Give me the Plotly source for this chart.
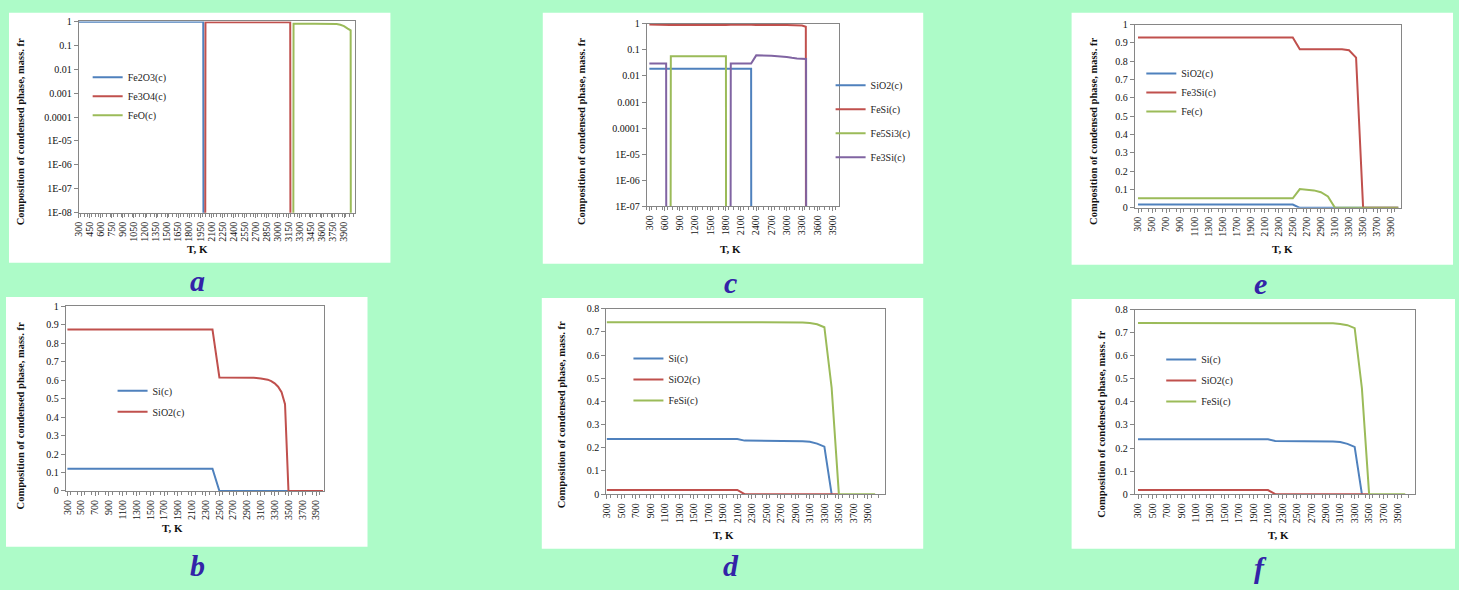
import plotly.graph_objects as go

W, H = 1459, 590
Z = 1e-30  # phase absent (below log axis minimum)

# ---------------- data ----------------
# Panel a  (log scale)
a_T_fe2o3 = [300, 1990, 2000]
a_fe2o3 = [0.97, 0.97, Z]
a_T_fe3o4 = [2010, 2020, 3170, 3180]
a_fe3o4 = [Z, 0.93, 0.93, Z]
a_T_feo = [3205, 3215, 3500, 3750, 3800, 3850, 3900, 3950, 3990, 3998]
a_feo = [Z, 0.8, 0.8, 0.79, 0.77, 0.72, 0.63, 0.5, 0.42, Z]

# Panel b
b_T_si = [300, 2400, 2500, 4000]
b_si = [0.12, 0.12, 0, 0]
b_T_sio2 = [300, 2400, 2500, 2900, 3000, 3100, 3200, 3250, 3300, 3350, 3400, 3450, 3500, 4000]
b_sio2 = [0.875, 0.875, 0.615, 0.615, 0.613, 0.61, 0.603, 0.595, 0.583, 0.565, 0.535, 0.47, 0, 0]

# Panel c  (log scale)
c_T_sio2 = [300, 2300, 2310]
c_sio2 = [0.019, 0.019, Z]
c_T_fesi = [300, 600, 700, 1800, 1900, 2300, 2400, 3000, 3200, 3300, 3375, 3385]
c_fesi = [0.95, 0.93, 0.9, 0.9, 0.93, 0.93, 0.9, 0.9, 0.9, 0.87, 0.78, Z]
c_T_fe5si3 = [705, 722, 1805, 1815]
c_fe5si3 = [Z, 0.057, 0.057, Z]
c_T_fe3si_1 = [300, 630, 640]
c_fe3si_1 = [0.03, 0.03, Z]
c_T_fe3si_2 = [1885, 1900, 2300, 2400, 2700, 2900, 3000, 3100, 3200, 3380, 3390]
c_fe3si_2 = [Z, 0.03, 0.03, 0.062, 0.06, 0.057, 0.054, 0.05, 0.047, 0.045, Z]

# Panels d and f (identical)
d_T_si = [300, 2100, 2200, 2800, 2900, 3000, 3100, 3200, 3300, 3400]
d_si = [0.238, 0.238, 0.231, 0.23, 0.228, 0.228, 0.226, 0.218, 0.205, 0]
d_T_sio2 = [300, 2100, 2200, 3500]
d_sio2 = [0.018, 0.018, 0, 0]
d_T_fesi = [300, 2900, 3000, 3100, 3200, 3300, 3400, 3500, 4000]
d_fesi = [0.742, 0.742, 0.741, 0.738, 0.733, 0.72, 0.46, 0, 0]

# Panel e
e_T_sio2 = [300, 2500, 2600, 4000]
e_sio2 = [0.018, 0.018, 0, 0]
e_T_fe3si = [300, 2500, 2600, 3200, 3300, 3400, 3500, 4000]
e_fe3si = [0.93, 0.93, 0.866, 0.866, 0.86, 0.82, 0, 0]
e_T_fe = [300, 2500, 2600, 2700, 2800, 2900, 3000, 3100, 4000]
e_fe = [0.052, 0.052, 0.102, 0.1, 0.095, 0.085, 0.062, 0, 0]

# tick labels
x_ticks_a = list(range(300, 4000, 150))
x_ticks_c = list(range(300, 4000, 300))
x_ticks_200 = list(range(300, 4000, 200))
log_ticks_a = [1, 0.1, 0.01, 0.001, 0.0001, 1e-5, 1e-6, 1e-7, 1e-8]
log_text_a = ["1", "0.1", "0.01", "0.001", "0.0001", "1E-05", "1E-06", "1E-07", "1E-08"]
log_ticks_c = log_ticks_a[:8]
log_text_c = log_text_a[:8]
lin_ticks_1 = [0, 0.1, 0.2, 0.3, 0.4, 0.5, 0.6, 0.7, 0.8, 0.9, 1]
lin_text_1 = ["0", "0.1", "0.2", "0.3", "0.4", "0.5", "0.6", "0.7", "0.8", "0.9", "1"]
lin_ticks_08 = lin_ticks_1[:9]
lin_text_08 = lin_text_1[:9]

BLUE, RED, GREEN, PURPLE = "#4F81BD", "#C0504D", "#9BBB59", "#8064A2"
SERIF = "Liberation Serif"
BG = "#ADFBC8"

fig = go.Figure()
layout = dict(width=W, height=H, margin=dict(l=0, r=0, t=0, b=0),
              paper_bgcolor=BG, plot_bgcolor="white", showlegend=True)


def fx(x):
    return x / W


def fy(y):
    return 1 - y / H


panels = {
    # i: (x0, x1, y0, y1, xrange, yrange, log, xtickvals, minor, ytickvals, yticktext)
    1: (73, 350, 15.7, 211, [300, 4043], [-8, 0], True, x_ticks_a, 50, log_ticks_a, log_text_a),
    2: (60, 319.3, 306.7, 495, [276, 4014], [0, 1], False, x_ticks_200, 100, lin_ticks_1, lin_text_1),
    3: (643.3, 836.7, 18.3, 204.3, [247, 4032], [-7, 0], True, x_ticks_c, 100, log_ticks_c, log_text_c),
    4: (602.7, 882.7, 309, 498.3, [292, 4137], [0, 0.8], False, x_ticks_200, 100, lin_ticks_08, lin_text_08),
    5: (1133.3, 1401, 19, 206, [252, 4042], [0, 1], False, x_ticks_200, 100, lin_ticks_1, lin_text_1),
    6: (1133.3, 1415, 310, 498.3, [253, 4138], [0, 0.8], False, x_ticks_200, 100, lin_ticks_08, lin_text_08),
}

tickfont = dict(family=SERIF, size=10, color="#111")
for i, (x0, x1, y0, y1, xr, yr, lg, xtv, mn, ytv, ytt) in panels.items():
    sx = "" if i == 1 else str(i)
    layout["xaxis" + sx] = dict(
        domain=[fx(x0), fx(x1)], anchor="y" + sx, range=xr, tickmode="array",
        tickvals=xtv, ticktext=[str(v) for v in xtv], tickangle=-90,
        ticks="outside", ticklen=4, tickcolor="#868686", showgrid=False,
        zeroline=False, showline=True, linecolor="#868686", linewidth=1, mirror=True,
        tickfont=tickfont,
        minor=dict(tickmode="linear", tick0=300 - mn / 2, dtick=mn, ticks="outside",
                   ticklen=3, tickcolor="#868686", showgrid=False))
    layout["yaxis" + sx] = dict(
        domain=[fy(y1), fy(y0)], anchor="x" + sx, range=yr,
        type="log" if lg else "linear", tickmode="array", tickvals=ytv, ticktext=ytt,
        ticks="outside", ticklen=4, tickcolor="#868686", showgrid=False,
        zeroline=False, showline=True, linecolor="#868686", linewidth=1, mirror=True,
        tickfont=tickfont)


def add(i, T, v, name, color, show=True, group=None):
    sx = "" if i == 1 else str(i)
    fig.add_trace(go.Scatter(
        x=T, y=v, mode="lines", name=name, line=dict(color=color, width=2),
        xaxis="x" + sx, yaxis="y" + sx, legend="legend" + sx,
        legendgroup=(group or name) + sx, showlegend=show))


add(1, a_T_fe2o3, a_fe2o3, "Fe2O3(c)", BLUE)
add(1, a_T_fe3o4, a_fe3o4, "Fe3O4(c)", RED)
add(1, a_T_feo, a_feo, "FeO(c)", GREEN)

add(2, b_T_si, b_si, "Si(c)", BLUE)
add(2, b_T_sio2, b_sio2, "SiO2(c)", RED)

add(3, c_T_sio2, c_sio2, "SiO2(c)", BLUE)
add(3, c_T_fesi, c_fesi, "FeSi(c)", RED)
add(3, c_T_fe5si3, c_fe5si3, "Fe5Si3(c)", GREEN)
add(3, c_T_fe3si_1, c_fe3si_1, "Fe3Si(c)", PURPLE, True, "fe3si")
add(3, c_T_fe3si_2, c_fe3si_2, "Fe3Si(c)", PURPLE, False, "fe3si")

for i in (4, 6):
    add(i, d_T_si, d_si, "Si(c)", BLUE)
    add(i, d_T_sio2, d_sio2, "SiO2(c)", RED)
    add(i, d_T_fesi, d_fesi, "FeSi(c)", GREEN)

add(5, e_T_sio2, e_sio2, "SiO2(c)", BLUE)
add(5, e_T_fe3si, e_fe3si, "Fe3Si(c)", RED)
add(5, e_T_fe, e_fe, "Fe(c)", GREEN)

# legends: (left px, top px, group gap)
legend_pos = {1: (82, 58, 0), 2: (107, 378, 2), 3: (828, 66, 5),
              4: (625, 345, 2), 5: (1140, 54, 0), 6: (1160, 346, 2)}
for i, (lx, ly, gap) in legend_pos.items():
    sx = "" if i == 1 else str(i)
    layout["legend" + sx] = dict(
        x=fx(lx), y=fy(ly), xanchor="left", yanchor="top", bgcolor="rgba(0,0,0,0)",
        font=dict(family=SERIF, size=10, color="#222"), itemwidth=30,
        tracegroupgap=gap, traceorder="grouped" if gap else "normal", itemclick=False)

# white chart boxes
boxes = [(3, 7, 386, 262), (539, 7, 921, 263), (1070, 7, 1453, 264),
         (0, 297, 363, 552), (538, 298, 921, 554), (1070, 299, 1455, 554)]
shapes = []
for (bx0, by0, bx1, by1) in boxes:
    shapes.append(dict(type="rect", xref="paper", yref="paper", x0=fx(bx0), x1=fx(bx1),
                       y0=fy(by1), y1=fy(by0), fillcolor="white", line=dict(width=0),
                       layer="below"))
layout["shapes"] = shapes

ann = []
ytitle = "Composition of condensed phase, mass. fr"
ytitle_pos = [(14, 128), (15, 418), (578, 128), (558, 417), (1092, 128), (1100, 427)]
xtitle_pos = [(192, 248), (167, 533), (727, 248), (720, 540), (1282, 248), (1278, 540)]
for (tx, ty) in ytitle_pos:
    ann.append(dict(text="<b>" + ytitle + "</b>", x=fx(tx), y=fy(ty), xref="paper",
                    yref="paper", showarrow=False, textangle=-90,
                    xanchor="center", yanchor="middle",
                    font=dict(family=SERIF, size=10.5, color="#111")))
for (tx, ty) in xtitle_pos:
    ann.append(dict(text="<b>T, K</b>", x=fx(tx), y=fy(ty), xref="paper", yref="paper",
                    showarrow=False, xanchor="center", yanchor="middle",
                    font=dict(family=SERIF, size=11, color="#111")))
letters = [("a", 192, 280), ("c", 727, 282), ("e", 1260, 283),
           ("b", 192, 571), ("d", 728, 571), ("f", 1260, 573)]
for (t, tx, ty) in letters:
    ann.append(dict(text="<b><i>" + t + "</i></b>", x=fx(tx), y=fy(ty), xref="paper",
                    yref="paper", showarrow=False, xanchor="center", yanchor="middle",
                    font=dict(family=SERIF, size=30, color="#3323A8")))
layout["annotations"] = ann

fig.update_layout(**layout)
fig.write_html("out.html", config={"displayModeBar": False},
               post_script="document.body.style.margin='0';")
